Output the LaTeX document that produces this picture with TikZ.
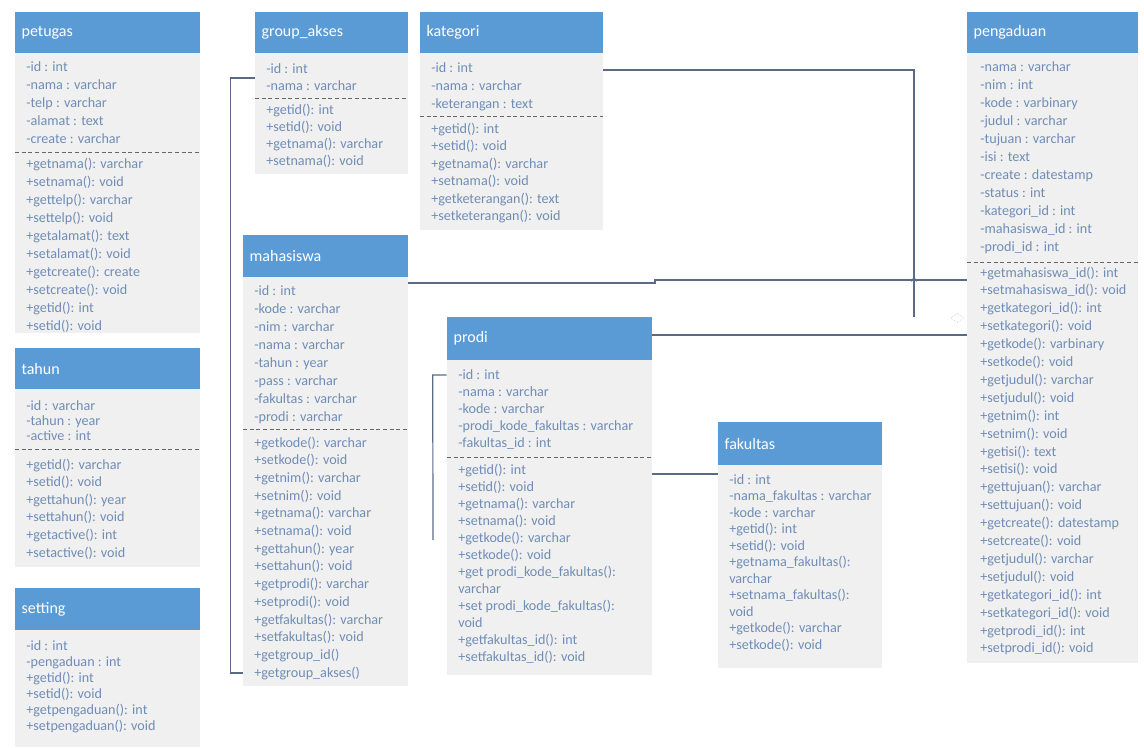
\documentclass[tikz,border=0pt]{standalone}
\usepackage{fontspec}
\setmainfont{Carlito}
\usetikzlibrary{positioning,arrows.meta,fit,shapes.geometric,decorations.markings}
\definecolor{hdblue}{HTML}{5B9BD5}
\definecolor{bodyg}{HTML}{F0F0F0}
\definecolor{memtxt}{HTML}{6F8DB6}
\definecolor{wire}{HTML}{5B6B85}
\definecolor{sepg}{HTML}{666666}
\tikzset{
  hdr/.style={fill=hdblue, draw=none, inner sep=0pt},
  cbody/.style={fill=bodyg, draw=none, inner sep=0pt},
  ctitle/.style={anchor=west, text=white, font=\fontsize{12}{14}\selectfont, inner sep=0pt},
  mem/.style={anchor=base west, text=memtxt, font=\fontsize{10.6}{12}\selectfont, inner sep=0pt},
  sepl/.style={draw=sepg, densely dashed, line width=0.6pt},
  assoc/.style={draw=wire, line width=0.9pt},
}

\begin{document}
\begin{tikzpicture}[x=0.75pt,y=-0.75pt]
  \useasboundingbox[fill=white] (0,0) rectangle (1144,747);

  % petugas
  \node[hdr, fit={(15,12) (200,53)}] (petugas) {};
  \node[ctitle] (petugas-t) at ([xshift=5pt]petugas.west) {petugas};
  \node[cbody, fit={(15,53) (200,333)}] (petugas-b) {};
  \foreach \m [count=\i from 0] in {-id : int, -nama : varchar, -telp : varchar, -alamat : text, -create : varchar}
    \node[mem] (petugas-a\i) at (26,71+18*\i) {\m};
  \draw[sepl] (15,152) -- (200,152);
  \foreach \m [count=\i from 0] in {+getnama(): varchar, +setnama(): void, +gettelp(): varchar, +settelp(): void,
      +getalamat(): text, +setalamat(): void, +getcreate(): create, +setcreate(): void, +getid(): int, +setid(): void}
    \node[mem] (petugas-m\i) at (26,168+18*\i) {\m};

  % tahun
  \node[hdr, fit={(15,348) (200,389)}] (tahun) {};
  \node[ctitle] (tahun-t) at ([xshift=5pt]tahun.west) {tahun};
  \node[cbody, fit={(15,389) (200,567)}] (tahun-b) {};
  \foreach \m [count=\i from 0] in {-id : varchar, -tahun : year, -active : int}
    \node[mem] (tahun-a\i) at (26,410+15*\i) {\m};
  \draw[sepl] (15,449) -- (200,449);
  \foreach \m [count=\i from 0] in {+getid(): varchar, +setid(): void, +gettahun(): year, +settahun(): void,
      +getactive(): int, +setactive(): void}
    \node[mem] (tahun-m\i) at (26,469+17.6*\i) {\m};

  % setting
  \node[hdr, fit={(15,588) (200,630)}] (setting) {};
  \node[ctitle] (setting-t) at ([xshift=5pt]setting.west) {setting};
  \node[cbody, fit={(15,630) (200,747)}] (setting-b) {};
  \foreach \m [count=\i from 0] in {-id : int, -pengaduan : int, +getid(): int, +setid(): void,
      +getpengaduan(): int, +setpengaduan(): void}
    \node[mem] (setting-m\i) at (26,650+16*\i) {\m};

  % group_akses
  \node[hdr, fit={(255,12) (408,53)}] (group_akses) {};
  \node[ctitle] (group_akses-t) at ([xshift=5pt]group_akses.west) {group\_akses};
  \node[cbody, fit={(255,53) (408,174)}] (group_akses-b) {};
  \foreach \m [count=\i from 0] in {-id : int, -nama : varchar}
    \node[mem] (group_akses-a\i) at (266,73+17*\i) {\m};
  \draw[sepl] (255,98) -- (408,98);
  \foreach \m [count=\i from 0] in {+getid(): int, +setid(): void, +getnama(): varchar, +setnama(): void}
    \node[mem] (group_akses-m\i) at (266,114+17*\i) {\m};

  % kategori
  \node[hdr, fit={(420,12) (603,53)}] (kategori) {};
  \node[ctitle] (kategori-t) at ([xshift=5pt]kategori.west) {kategori};
  \node[cbody, fit={(420,53) (603,230)}] (kategori-b) {};
  \foreach \m [count=\i from 0] in {-id : int, -nama : varchar, -keterangan : text}
    \node[mem] (kategori-a\i) at (431,72+18*\i) {\m};
  \draw[sepl] (420,116) -- (603,116);
  \foreach \m [count=\i from 0] in {+getid(): int, +setid(): void, +getnama(): varchar, +setnama(): void,
      +getketerangan(): text, +setketerangan(): void}
    \node[mem] (kategori-m\i) at (431,133+17.5*\i) {\m};

  % mahasiswa
  \node[hdr, fit={(243,235) (408,277)}] (mahasiswa) {};
  \node[ctitle] (mahasiswa-t) at ([xshift=5pt]mahasiswa.west) {mahasiswa};
  \node[cbody, fit={(243,277) (408,686)}] (mahasiswa-b) {};
  \foreach \m [count=\i from 0] in {-id : int, -kode : varchar, -nim : varchar, -nama : varchar, -tahun : year,
      -pass : varchar, -fakultas : varchar, -prodi : varchar}
    \node[mem] (mahasiswa-a\i) at (254,295+18*\i) {\m};
  \draw[sepl] (243,429) -- (408,429);
  \foreach \m [count=\i from 0] in {+getkode(): varchar, +setkode(): void, +getnim(): varchar, +setnim(): void,
      +getnama(): varchar, +setnama(): void, +gettahun(): year, +settahun(): void, +getprodi(): varchar,
      +setprodi(): void, +getfakultas(): varchar, +setfakultas(): void, +getgroup\_id(), +getgroup\_akses()}
    \node[mem] (mahasiswa-m\i) at (254,447+17.7*\i) {\m};

  % prodi
  \node[hdr, fit={(447,317) (652,360)}] (prodi) {};
  \node[ctitle] (prodi-t) at ([xshift=5pt]prodi.west) {prodi};
  \node[cbody, fit={(447,360) (652,675)}] (prodi-b) {};
  \foreach \m [count=\i from 0] in {-id : int, -nama : varchar, -kode : varchar, -prodi\_kode\_fakultas : varchar,
      -fakultas\_id : int}
    \node[mem] (prodi-a\i) at (458,379+17*\i) {\m};
  \draw[sepl] (447,457) -- (652,457);
  \foreach \m [count=\i from 0] in {+getid(): int, +setid(): void, +getnama(): varchar, +setnama(): void,
      +getkode(): varchar, +setkode(): void, +get prodi\_kode\_fakultas():, varchar,
      +set prodi\_kode\_fakultas():, void, +getfakultas\_id(): int, +setfakultas\_id(): void}
    \node[mem] (prodi-m\i) at (458,474+17*\i) {\m};

  % fakultas
  \node[hdr, fit={(718,422) (882,465)}] (fakultas) {};
  \node[ctitle] (fakultas-t) at ([xshift=5pt]fakultas.west) {fakultas};
  \node[cbody, fit={(718,465) (882,668)}] (fakultas-b) {};
  \foreach \m [count=\i from 0] in {-id : int, -nama\_fakultas : varchar, -kode : varchar, +getid(): int,
      +setid(): void, +getnama\_fakultas():, varchar, +setnama\_fakultas():, void, +getkode(): varchar,
      +setkode(): void}
    \node[mem] (fakultas-m\i) at (729,484+16.5*\i) {\m};

  % pengaduan
  \node[hdr, fit={(967,12) (1138,53)}] (pengaduan) {};
  \node[ctitle] (pengaduan-t) at ([xshift=5pt]pengaduan.west) {pengaduan};
  \node[cbody, fit={(967,53) (1138,663)}] (pengaduan-b) {};
  \foreach \m [count=\i from 0] in {-nama : varchar, -nim : int, -kode : varbinary, -judul : varchar,
      -tujuan : varchar, -isi : text, -create : datestamp, -status : int, -kategori\_id : int,
      -mahasiswa\_id : int, -prodi\_id : int}
    \node[mem] (pengaduan-a\i) at (980,71+18*\i) {\m};
  \draw[sepl] (967,262) -- (1138,262);
  \foreach \m [count=\i from 0] in {+getmahasiswa\_id(): int, +setmahasiswa\_id(): void, +getkategori\_id(): int,
      +setkategori(): void, +getkode(): varbinary, +setkode(): void, +getjudul(): varchar, +setjudul(): void,
      +getnim(): int, +setnim(): void, +getisi(): text, +setisi(): void, +gettujuan(): varchar,
      +settujuan(): void, +getcreate(): datestamp, +setcreate(): void, +getjudul(): varchar,
      +setjudul(): void, +getkategori\_id(): int, +setkategori\_id(): void, +getprodi\_id(): int,
      +setprodi\_id(): void}
    \node[mem] (pengaduan-m\i) at (980,277+17.9*\i) {\m};

  % connectors
  \coordinate (mhjog) at (655,283);
  \coordinate (katend) at (914,317);
  \coordinate (prodiend) at (433,540);
  \node[diamond, draw=gray!55, densely dotted, inner sep=0pt, minimum width=10pt, minimum height=7pt] (aggmark) at (957,318) {};

  \draw[assoc] (group_akses-b.west |- 0,78) -- ++(-24,0) |- (mahasiswa-b.west |- 0,673);
  \draw[assoc, postaction={decorate}, decoration={markings,
      mark=at position 0.925 with {\arrowreversed{Stealth[length=5pt,width=4pt]}}}]
    (kategori-b.east |- 0,70) -| (katend);
  \draw[assoc] (mahasiswa-b.east |- mhjog) -- (mhjog) -- ++(0,-3) -- (pengaduan-b.west |- 0,280);
  \draw[assoc] (prodi.east |- 0,335) -- (pengaduan-b.west |- 0,335);
  \draw[assoc] (prodi-b.east |- 0,474) -- (fakultas-b.west |- 0,474);
  \draw[assoc] (prodi-b.west |- 0,375) -- ++(-14,0) -- (prodiend);
\end{tikzpicture}
\end{document}
